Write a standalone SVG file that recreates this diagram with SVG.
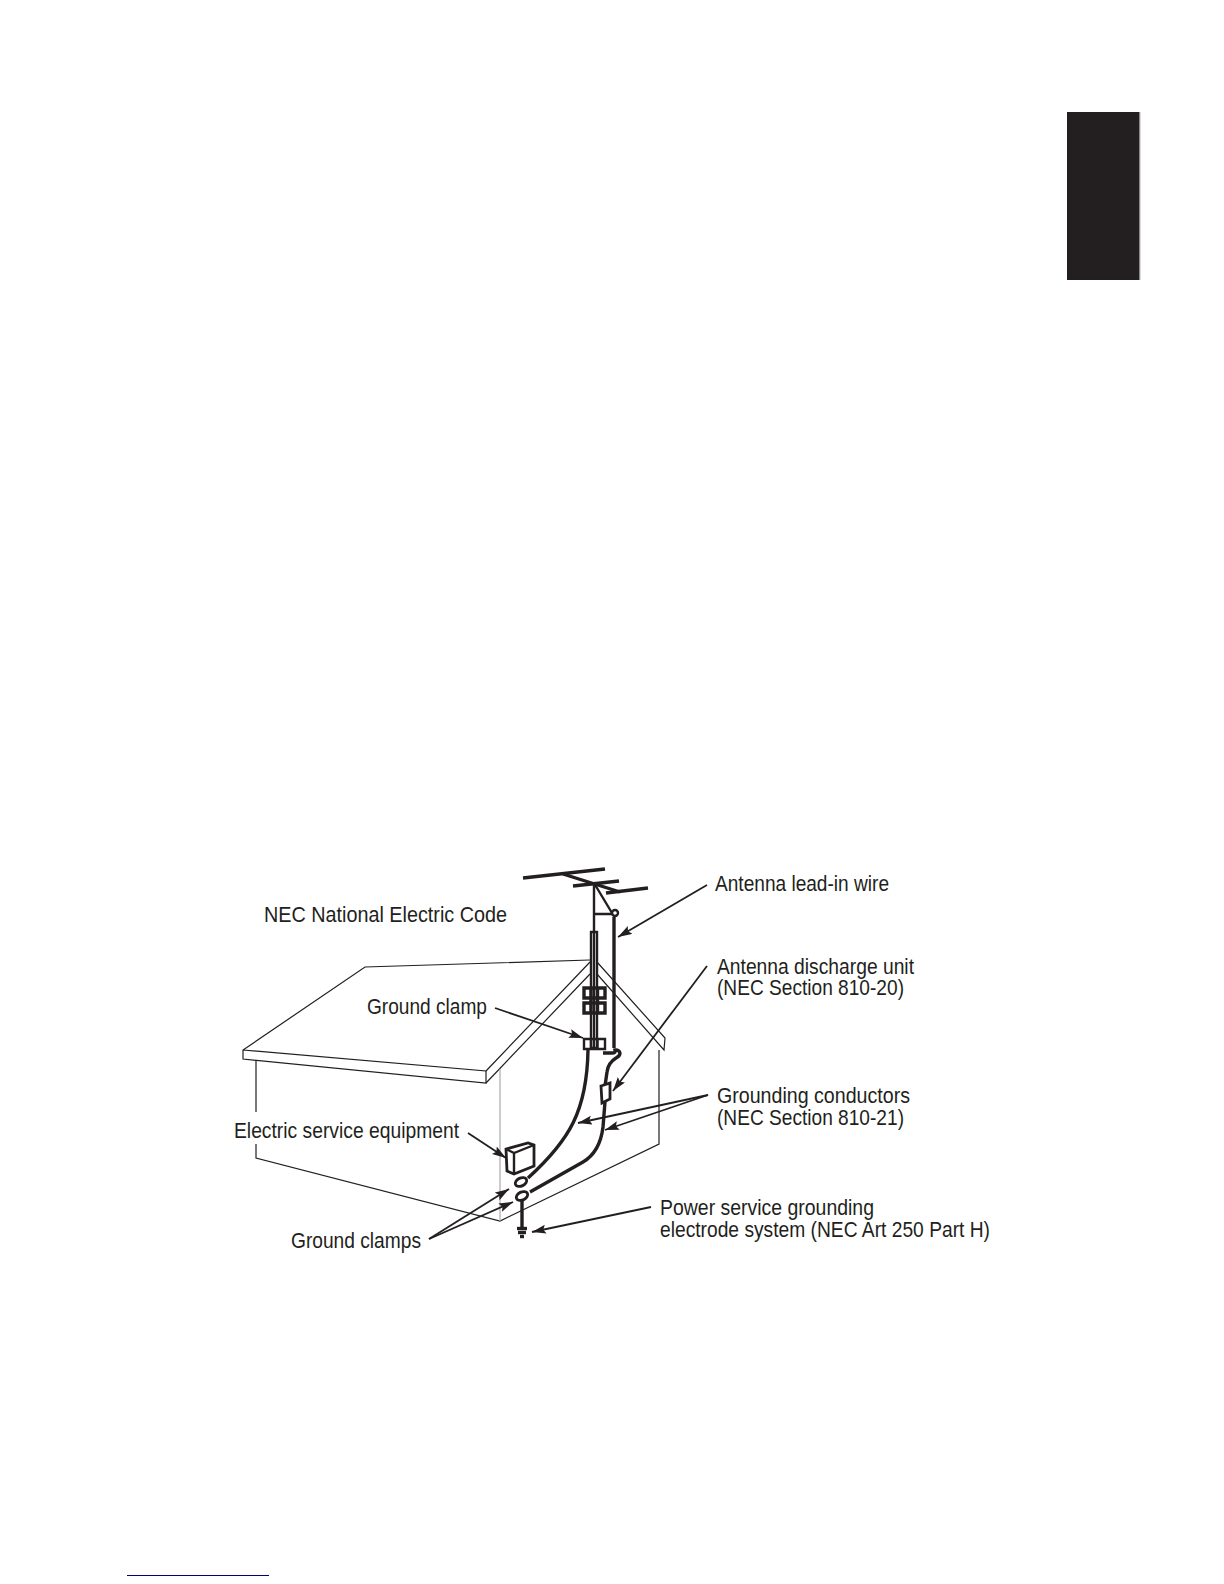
<svg xmlns="http://www.w3.org/2000/svg" width="1224" height="1584" viewBox="0 0 1224 1584">
<defs>
<marker id="ah" markerUnits="userSpaceOnUse" markerWidth="16" markerHeight="10" refX="14" refY="4.500" orient="auto"><path d="M0 0 L14 4.500 L0 9 L2.500 4.500 Z" fill="#231f20"/></marker>
</defs>
<style>
text{font-family:"Liberation Sans",Arial,sans-serif;font-size:21.500px;fill:#231f20}
text.n{font-size:22px}
.h{fill:none;stroke:#231f20;stroke-width:1.2}
.g{fill:none;stroke:#aaa;stroke-width:1.200}
.m{fill:none;stroke:#231f20;stroke-width:2.400}
.t{fill:none;stroke:#231f20;stroke-width:3.400}
.w{fill:#fff;stroke:#231f20;stroke-width:2.800}
.a{fill:none;stroke:#231f20;stroke-width:1.800;marker-end:url(#ah)}
</style>
<rect width="1224" height="1584" fill="#fff"/>
<g id="tab">
<rect x="1067" y="112" width="72.500" height="168" fill="#231f20"/>
<rect x="1139.500" y="112" width="0.800" height="168" fill="#888"/>
</g>
<rect id="rule" x="127" y="1575" width="142" height="1" fill="#000080"/>
<g id="house">
<path class="h" d="M590 960 L365 967 L243 1050 L243 1059 L486 1083 L486 1071 L243 1050"/>
<path class="h" d="M486 1071 L590 962 M486 1083 L590 974"/>
<path class="h" d="M597 962 L665 1038 L664 1050 L597 974"/>
<path class="h" d="M659 1050 V1144 L500 1221 L256 1158 V1144 M256 1112 V1060"/>
<path class="g" d="M500 1069 V1221"/>
</g>
<g id="antenna">
<path class="t" d="M523 878 L605 869 M573 886 L619 881 M606 893 L648 888"/>
<path class="t" d="M563 874 L620 892"/>
<path class="m" d="M594 883 V932 M594 883 L612 913 M594 914 H612"/>
<circle cx="615" cy="913" r="3" class="m" fill="#fff"/>
<path class="t" d="M614 917 V1048"/>
<path class="m" d="M591 932 H597 V1048 H591 Z"/>
<path class="m" d="M594 932 V1048"/>
</g>
<g id="upper-clamps">
<path class="t" d="M584 988 H605 V998 H584 Z M584 1003 H605 V1013 H584 Z M591 988 V1013 M597.500 988 V1013"/>
</g>
<g id="ground-clamp">
<path class="m" d="M584 1039 H605 V1049 H584 Z M591 1039 V1049 M597.500 1039 V1049"/>
</g>
<g id="discharge-unit">
<path class="t" d="M603 1053 H612 Q616 1053 615 1050 A4 4 0 0 1 620 1053 Q620 1056 616 1058 Q608 1063 607 1072 L605 1086"/>
<path class="w" d="M601 1086 L610 1083 V1099 L602 1103 Z"/>
</g>
<g id="service-equipment">
<path class="w" d="M506 1149 L528 1143 L534 1145 V1166 L514 1174 L507 1171 Z"/>
<path class="m" d="M506 1149 L514 1153 L534 1145 M514 1153 V1174"/>
</g>
<g id="grounding-conductors">
<path class="t" d="M588 1050 C587 1110 570 1140 528 1178"/>
<path class="t" d="M605 1102 L603 1127 Q600 1152 583 1162 L530 1192"/>
</g>
<g id="ground-electrode">
<ellipse cx="521" cy="1182" rx="6" ry="4" transform="rotate(-25 521 1182)" class="w"/>
<ellipse cx="522" cy="1196" rx="6" ry="4" transform="rotate(-25 522 1196)" class="w"/>
<path class="t" d="M522 1200 V1227"/>
<path class="t" d="M517 1228.500 H527"/>
<path class="t" d="M518 1232.500 H526"/>
<path class="t" d="M520 1236.500 H524"/>
</g>
<g id="connectors">
<path class="a" d="M707 885 L618 937"/>
<path class="a" d="M707 966 L613 1091"/>
<path class="a" d="M708 1095 L578 1123"/>
<path class="a" d="M708 1095 L605 1130"/>
<path class="a" d="M651 1207 L532 1232"/>
<path class="a" d="M429 1239 L509 1189"/>
<path class="a" d="M429 1239 L513 1202"/>
<path class="a" d="M468 1133 L506 1158"/>
<path class="a" d="M495 1008 L583 1038"/>
</g>
<g id="labels">
<text class="n" x="264" y="922" textLength="243" lengthAdjust="spacingAndGlyphs">NEC National Electric Code</text>
<text x="715" y="890.500" textLength="174" lengthAdjust="spacingAndGlyphs">Antenna lead-in wire</text>
<text x="717" y="973.500" textLength="197" lengthAdjust="spacingAndGlyphs">Antenna discharge unit</text>
<text x="717" y="995" textLength="187" lengthAdjust="spacingAndGlyphs">(NEC Section 810-20)</text>
<text x="717" y="1102.500" textLength="193" lengthAdjust="spacingAndGlyphs">Grounding conductors</text>
<text x="717" y="1125" textLength="187" lengthAdjust="spacingAndGlyphs">(NEC Section 810-21)</text>
<text x="660" y="1214.500" textLength="214" lengthAdjust="spacingAndGlyphs">Power service grounding</text>
<text x="660" y="1237" textLength="330" lengthAdjust="spacingAndGlyphs">electrode system (NEC Art 250 Part H)</text>
<text x="367" y="1013.500" textLength="120" lengthAdjust="spacingAndGlyphs">Ground clamp</text>
<text x="234" y="1137.500" textLength="225" lengthAdjust="spacingAndGlyphs">Electric service equipment</text>
<text x="291" y="1247.500" textLength="130" lengthAdjust="spacingAndGlyphs">Ground clamps</text>
</g>
</svg>
